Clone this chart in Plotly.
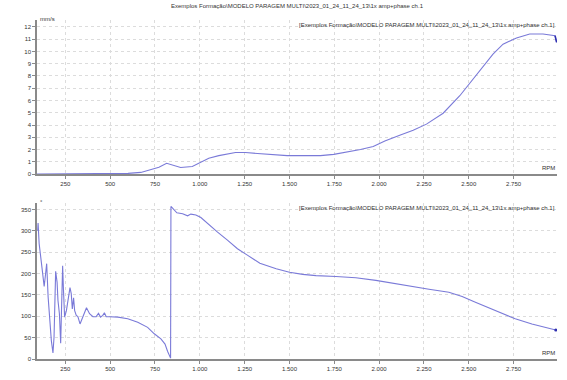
import plotly.graph_objects as go
from plotly.subplots import make_subplots

TITLE = "Exemplos Formação\\MODELO PARAGEM MULTI\\2023_01_24_11_24_13\\1x amp+phase ch.1"

# Amplitude (mm/s) vs RPM
amp_rpm = [92, 200, 390, 400, 600, 671, 744, 772, 815, 856, 893, 958, 1004, 1050, 1106, 1162,
           1199, 1255, 1320, 1394, 1487, 1580, 1673, 1747, 1821, 1896, 1967, 2032, 2115, 2190,
           2264, 2357, 2450, 2543, 2635, 2691, 2766, 2840, 2914, 2981, 2988, 2990]
amp_val = [0, 0, 0, 0.04, 0.05, 0.13, 0.47, 0.55, 0.88, 0.67, 0.53, 0.61, 0.97, 1.28, 1.5, 1.67,
           1.75, 1.75, 1.67, 1.58, 1.5, 1.5, 1.5, 1.6, 1.78, 2.0, 2.25, 2.7, 3.17, 3.58,
           4.07, 4.96, 6.39, 8.12, 9.78, 10.6, 11.1, 11.43, 11.43, 11.29, 11.0, 10.74]

# Phase (deg) vs RPM
ph_rpm = [96, 98, 104, 113, 121, 126, 132, 139, 146, 154, 163, 172, 181, 187, 196, 204, 209,
          217, 224, 229, 235, 239, 246, 256, 265, 276, 283, 289, 296, 302, 311, 320, 332, 343,
          354, 368, 385, 404, 422, 435, 446, 459, 468, 478, 496, 543, 598, 654, 709, 746, 783,
          806, 820, 832, 837, 839, 858, 872, 904, 932, 950, 978, 1006, 1043, 1099, 1154, 1210,
          1265, 1335, 1426, 1500, 1574, 1648, 1759, 1870, 1982, 2075, 2167, 2278, 2389, 2463,
          2537, 2610, 2685, 2759, 2852, 2944, 2985]
ph_val = [300, 318, 270, 239, 207, 180, 170, 196, 223, 145, 90, 43, 14, 51, 205, 180, 137,
          106, 37, 106, 218, 168, 98, 113, 137, 167, 153, 117, 143, 113, 102, 99, 82, 94,
          104, 120, 106, 99, 99, 107, 98, 102, 108, 99, 99, 98, 94, 86, 74, 59, 47,
          35, 18, 4, 2, 357, 348, 342, 340, 335, 339, 337, 331, 317, 297, 278, 258,
          243, 224, 211, 203, 198, 195, 193, 190, 184, 177, 170, 163, 156, 146,
          133, 120, 106, 94, 82, 73, 68]

x_ticks = [250, 500, 750, 1000, 1250, 1500, 1750, 2000, 2250, 2500, 2750]
amp_ticks = list(range(0, 13))
ph_ticks = [0, 50, 100, 150, 200, 250, 300, 350]

LINE = "#7a7ad8"
AXIS = "#8a8a8a"
GRID = "#dcdcdc"
FONT = "Liberation Sans"

fig = make_subplots(rows=2, cols=1, vertical_spacing=0.0)
fig.add_trace(go.Scatter(x=amp_rpm, y=amp_val, mode="lines",
                         line=dict(color=LINE, width=1.1), showlegend=False), row=1, col=1)
fig.add_trace(go.Scatter(x=ph_rpm, y=ph_val, mode="lines",
                         line=dict(color=LINE, width=1.1), showlegend=False), row=2, col=1)
# darker end-of-sweep markers
fig.add_trace(go.Scatter(x=amp_rpm[-3:], y=amp_val[-3:], mode="lines",
                         line=dict(color="#3030b0", width=1.6), showlegend=False), row=1, col=1)
fig.add_trace(go.Scatter(x=ph_rpm[-1:], y=ph_val[-1:], mode="markers",
                         marker=dict(color="#3030b0", size=3), showlegend=False), row=2, col=1)

xcommon = dict(range=[92, 2992], tickvals=x_ticks, tickformat=",d", separatethousands=True,
               showgrid=True, gridcolor=GRID, griddash="dot", gridwidth=1,
               showline=True, linecolor=AXIS, linewidth=1.5, ticks="outside",
               ticklen=3, tickcolor=AXIS, zeroline=False, automargin=False,
               tickfont=dict(size=6, color="#333333", family=FONT))
ycommon = dict(showgrid=True, gridcolor=GRID, griddash="dot", gridwidth=1,
               showline=True, linecolor=AXIS, linewidth=1.5, ticks="outside",
               ticklen=3, tickcolor=AXIS, zeroline=False, automargin=False,
               tickfont=dict(size=6, color="#333333", family=FONT))

fig.update_xaxes(**xcommon)
fig.update_yaxes(**ycommon)
fig.update_yaxes(range=[0, 12.57], tickvals=amp_ticks, row=1, col=1)
fig.update_yaxes(range=[0, 365], tickvals=ph_ticks, row=2, col=1)

fig.update_layout(
    width=567, height=380,
    margin=dict(l=37, r=10, t=20, b=21),
    paper_bgcolor="white", plot_bgcolor="white",
    separators=",.",
    font=dict(family=FONT, size=6, color="#333333"),
    xaxis=dict(domain=[0, 1]),
    yaxis=dict(domain=[0.5457, 1.0]),
    xaxis2=dict(domain=[0, 1]),
    yaxis2=dict(domain=[0.0, 0.4602]),
)

ann = [
    dict(text=TITLE, x=0.5, y=1.0, xref="paper", yref="paper", xanchor="center",
         yanchor="bottom", yshift=9, showarrow=False),
    dict(text="[" + TITLE + "]", x=1.0, y=1.0, xref="x domain", yref="y domain",
         xanchor="right", yanchor="top", showarrow=False),
    dict(text="[" + TITLE + "]", x=1.0, y=1.0, xref="x2 domain", yref="y2 domain",
         xanchor="right", yanchor="top", showarrow=False),
    dict(text="RPM", x=1.0, y=0.0, xref="x domain", yref="y domain",
         xanchor="right", yanchor="bottom", yshift=1, showarrow=False),
    dict(text="RPM", x=1.0, y=0.0, xref="x2 domain", yref="y2 domain",
         xanchor="right", yanchor="bottom", yshift=1, showarrow=False),
    dict(text="mm/s", x=0.0, y=1.0, xref="x domain", yref="y domain",
         xanchor="left", yanchor="bottom", xshift=1, yshift=-4, showarrow=False),
    dict(text="°", x=0.0, y=1.0, xref="x2 domain", yref="y2 domain",
         xanchor="left", yanchor="bottom", xshift=1, yshift=-4, showarrow=False),
]
fig.update_layout(annotations=ann)

fig.write_html("out.html", config={"displayModeBar": False},
               post_script="document.body.style.margin='0';")
